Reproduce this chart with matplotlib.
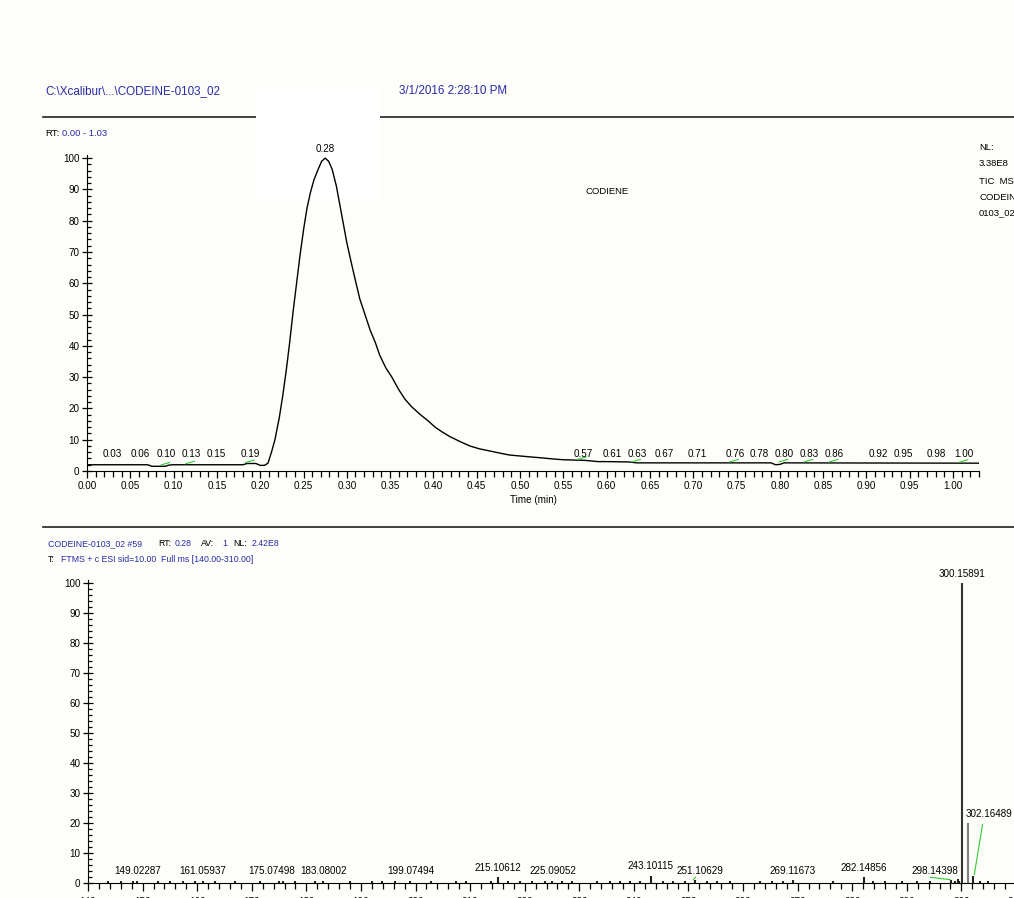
import numpy as np
import matplotlib
matplotlib.use('Agg')
import matplotlib.pyplot as plt
from matplotlib.lines import Line2D
from matplotlib.patches import Rectangle
from matplotlib.ticker import MultipleLocator, FormatStrFormatter
from matplotlib import font_manager

# Xcalibur prints use a narrow sans; use Liberation Sans Narrow when present
try:
    font_manager.findfont(font_manager.FontProperties(family='Liberation Sans Narrow'),
                          fallback_to_default=False)
    narrow = True
except Exception:
    narrow = False
if narrow:
    plt.rcParams['font.family'] = ['Liberation Sans Narrow', 'DejaVu Sans']
    k = 1.0
else:
    plt.rcParams['font.family'] = ['Liberation Sans', 'DejaVu Sans']
    k = 0.85

W, H = 1014, 898
blue = '#2B2BA6'
bg = '#FDFDF9'

# chromatogram (TIC), relative abundance vs time
rt_time = [0.00, 0.07, 0.075, 0.09, 0.095, 0.10, 0.18, 0.185, 0.195, 0.20, 0.205,
           0.209, 0.213, 0.217, 0.222, 0.226, 0.230, 0.234, 0.238, 0.242, 0.246,
           0.250, 0.254, 0.258, 0.262, 0.267, 0.271, 0.275, 0.279, 0.283, 0.288,
           0.292, 0.296, 0.300, 0.304, 0.309, 0.315, 0.321, 0.327, 0.333, 0.338,
           0.345, 0.352, 0.360, 0.367, 0.375, 0.385, 0.394, 0.402, 0.410, 0.419,
           0.430, 0.442, 0.453, 0.465, 0.477, 0.488, 0.500, 0.512, 0.525, 0.540,
           0.550, 0.563, 0.575, 0.590, 0.600, 0.625, 0.635, 0.700, 0.790, 0.795,
           0.800, 0.805, 1.03]
rt_abund = [2.0, 2.0, 1.5, 1.5, 1.9, 2.0, 2.0, 2.4, 2.4, 1.8, 1.8,
            2.5, 6, 10, 17, 24, 32, 41, 51, 60, 69,
            77, 84, 89, 93, 96.5, 99, 100, 99, 96.5, 91,
            85, 79, 73, 68, 62, 55, 50, 45, 41, 37,
            33, 30, 26, 23, 20.5, 18, 16, 14, 12.5, 11,
            9.5, 8, 7.1, 6.4, 5.7, 5.1, 4.8, 4.5, 4.2, 3.8,
            3.6, 3.5, 3.4, 3.0, 3.0, 2.9, 2.6, 2.6, 2.6, 2.0,
            2.1, 2.6, 2.5]
rt_labels = ['0.03', '0.06', '0.10', '0.13', '0.15', '0.19', '0.57', '0.61', '0.63',
             '0.67', '0.71', '0.76', '0.78', '0.80', '0.83', '0.86', '0.92', '0.95',
             '0.98', '1.00']
rt_label_at = [0.0295, 0.062, 0.0915, 0.120, 0.149, 0.189, 0.5725, 0.606, 0.635,
               0.667, 0.705, 0.748, 0.776, 0.805, 0.834, 0.863, 0.914, 0.943,
               0.981, 1.013]
rt_green = ['0.10', '0.13', '0.19', '0.57', '0.63', '0.76', '0.80', '0.83', '0.86', '1.00']

# mass spectrum at scan #59
ms_mz = [149.02287, 161.05937, 175.07498, 183.08002, 199.07494, 215.10612,
         225.09052, 243.10115, 251.10629, 269.11673, 282.14856, 298.14398,
         299.3, 300.15891, 301.162, 302.16489]
ms_int = [0.8, 0.8, 0.8, 0.8, 0.8, 2.0, 0.8, 2.5, 1.0, 1.0, 2.0, 1.0,
          1.2, 100, 20, 2.5]
ms_labels = ['149.02287', '161.05937', '175.07498', '183.08002', '199.07494',
             '215.10612', '225.09052', '243.10115', '251.10629', '269.11673',
             '282.14856', '298.14398', None, '300.15891', None, '302.16489']
noise_mz = [143.7, 146.0, 148.2, 152.8, 155.0, 157.4, 159.6, 163.2, 166.9, 171.5,
            175.8, 177.9, 181.6, 188.0, 192.0, 193.8, 196.2, 202.9, 207.5, 209.3,
            213.9, 216.9, 219.1, 221.3, 223.7, 226.8, 228.6, 233.2, 235.6, 237.4,
            239.3, 241.1, 245.3, 247.1, 249.3, 253.4, 255.2, 257.6, 263.1, 265.3,
            267.3, 276.4, 283.8, 286.0, 289.1, 291.8, 294.2, 298.8, 299.6, 303.4,
            304.8]

fig = plt.figure(figsize=(W / 100, H / 100), dpi=100, facecolor=bg)

def px(x, y):
    return x / W, 1 - y / H

# header lines and white label box
for yy in (117, 527):
    x0, y0 = px(43, yy)
    x1, _ = px(1014, yy)
    fig.add_artist(Line2D([x0, x1], [y0, y0], color='#222222', lw=1.2, zorder=-2))
bx, by = px(256, 200)
fig.add_artist(Rectangle((bx, by), 124 / W, 112 / H, facecolor='white',
                         edgecolor='none', zorder=-1))

def ftext(x, y, s, color='black', size=8, **kw):
    fig.text(*px(x, y), s, color=color, fontsize=size * k, va='center', **kw)

ftext(45, 91, r'C:\Xcalibur\...\CODEINE-0103_02', blue, 9.9)
ftext(399, 91, '3/1/2016 2:28:10 PM', blue, 9.9)
ftext(45, 133, 'RT:', 'black', 8)
ftext(62, 133, '0.00 - 1.03', blue, 8)
ftext(585, 192, 'CODIENE', 'black', 8)
for yy, s in zip([148, 163, 182, 197, 213], ['NL:', '3.38E8', 'TIC  MS', 'CODEINE-', '0103_02']):
    ftext(979, yy, s, 'black', 8)

ftext(48, 544, 'CODEINE-0103_02 #59', blue, 7.4)
ftext(158, 544, 'RT:', 'black', 7.4)
ftext(175, 544, '0.28', blue, 7.4)
ftext(201, 544, 'AV:', 'black', 7.4)
ftext(222, 544, '1', blue, 7.4)
ftext(233, 544, 'NL:', 'black', 7.4)
ftext(252, 544, '2.42E8', blue, 7.4)
ftext(48, 559, 'T:', 'black', 7.4)
ftext(61, 559, 'FTMS + c ESI sid=10.00  Full ms [140.00-310.00]', blue, 7.4)

lab_fs = 8.4 * k

def style(ax):
    ax.set_facecolor('none')
    for s in ('top', 'right'):
        ax.spines[s].set_visible(False)
    ax.tick_params(which='major', direction='out', length=5, width=0.9,
                   labelsize=8.4 * k, pad=2)
    ax.tick_params(axis='y', which='major', direction='inout', length=7)
    ax.tick_params(which='minor', direction='in', length=3, width=0.9)
    ax.tick_params(axis='x', which='minor', direction='out', length=4)
    ax.set_ylim(0, 101)
    ax.yaxis.set_major_locator(MultipleLocator(10))
    ax.yaxis.set_minor_locator(MultipleLocator(2))

# chromatogram
ax1 = fig.add_axes([87 / W, (H - 471) / H, (979 - 87) / W, 316 / H])
style(ax1)
ax1.plot(rt_time, rt_abund, color='black', lw=1.0)
ax1.set_xlim(0, 1.03)
ax1.xaxis.set_major_locator(MultipleLocator(0.05))
ax1.xaxis.set_minor_locator(MultipleLocator(0.01))
ax1.xaxis.set_major_formatter(FormatStrFormatter('%.2f'))
ax1.set_xlabel('Time (min)', fontsize=lab_fs, labelpad=3)
ax1.annotate('0.28', (0.275, 100), xytext=(0, 3), textcoords='offset points',
             ha='center', va='bottom', fontsize=lab_fs)
for lab, t in zip(rt_labels, rt_label_at):
    yv = float(np.interp(t, rt_time, rt_abund))
    ax1.annotate(lab, (t, 2.6), xytext=(0, 3), textcoords='offset points',
                 ha='center', va='bottom', fontsize=lab_fs)
    if lab in rt_green:
        ax1.plot([t - 0.006, t + 0.004], [yv + 0.3, yv + 1.1], color='#33CC33', lw=0.8)

# mass spectrum
ax2 = fig.add_axes([88 / W, (H - 883) / H, 928 / W, 303 / H])
style(ax2)
ax2.set_xlim(140, 310)
ax2.xaxis.set_major_locator(MultipleLocator(10))
ax2.xaxis.set_minor_locator(MultipleLocator(2))
ax2.tick_params(axis='x', which='major', length=6, pad=4)
ax2.vlines(noise_mz, 0, 0.6, color='#222222', lw=1.5)
for m, v, lab in zip(ms_mz, ms_int, ms_labels):
    col = '#333333' if v > 50 else ('#808080' if v > 10 else '#222222')
    ax2.vlines(m, 0, v, color=col, lw=1.5)
shift = {'175.07498': -1.4, '251.10629': 1.0, '298.14398': -3.0, '302.16489': 2.8}
for m, v, lab in zip(ms_mz, ms_int, ms_labels):
    if lab is None:
        continue
    dx = shift.get(lab, 0)
    ty = 20 if lab == '302.16489' else v
    ax2.annotate(lab, (m + dx, ty), xytext=(0, 3), textcoords='offset points',
                 ha='center', va='bottom', fontsize=lab_fs)
    if lab in ('251.10629', '298.14398'):
        ax2.plot([m + dx - 0.8, m - 0.2], [v + 0.9, v + 0.1], color='#33CC33', lw=0.8)
    if lab == '302.16489':
        ax2.plot([m + 1.7, m + 0.2], [19.5, v + 0.3], color='#33CC33', lw=0.8)

fig.savefig('out.png', dpi=100, facecolor=bg)
